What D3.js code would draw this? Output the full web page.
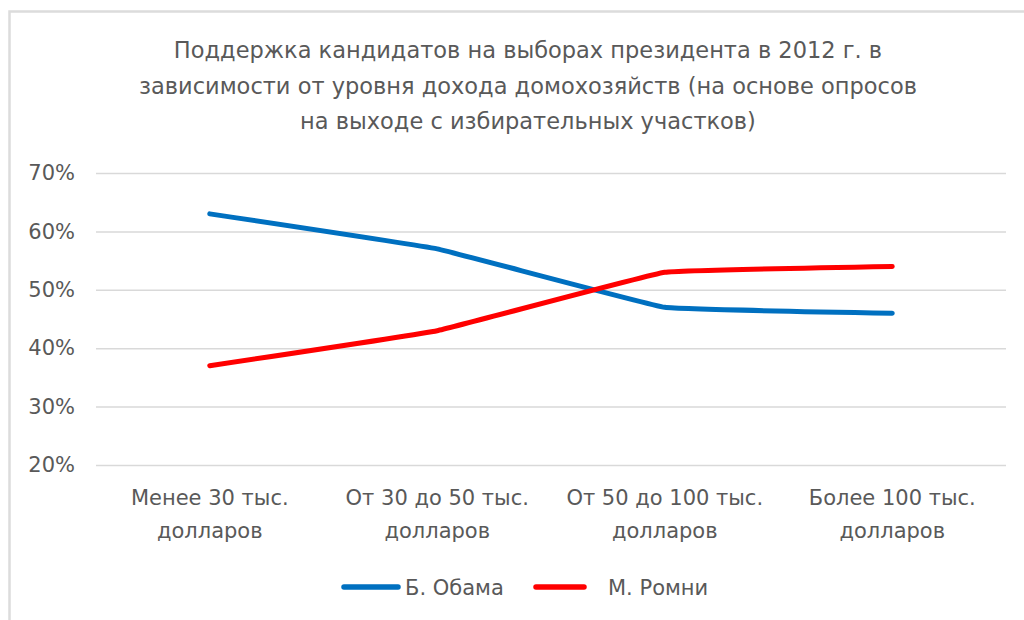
<!DOCTYPE html>
<html>
<head>
<meta charset="utf-8">
<script src="https://cdn.jsdelivr.net/npm/d3@7"></script>
<style>
  body { margin: 0; background: #fff; }
  text { font-family: "DejaVu Sans", "Open Sans", sans-serif; fill: #595959; }
</style>
</head>
<body>
<div id="chart"></div>
<script>
const canvas = { w: 1024, h: 620 };

const titleLines = [
  "Поддержка кандидатов на выборах президента в 2012 г. в",
  "зависимости от уровня дохода домохозяйств (на основе опросов",
  "на выходе с избирательных участков)"
];
const categories = [
  ["Менее 30 тыс.", "долларов"],
  ["От 30 до 50 тыс.", "долларов"],
  ["От 50 до 100 тыс.", "долларов"],
  ["Более 100 тыс.", "долларов"]
];
const obama = [63, 57, 47, 46];
const romney = [37, 43, 53, 54];
const yTicks = [20, 30, 40, 50, 60, 70];
const seriesNames = ["Б. Обама", "М. Ромни"];
const seriesColors = ["#0070c0", "#ff0000"];

const plot = { left: 96, right: 1006, top: 173, bottom: 465 };

const svg = d3.select("#chart")
  .append("svg")
  .attr("width", canvas.w)
  .attr("height", canvas.h);

// chart frame (only top and left edges fall inside the shot)
svg.append("rect")
  .attr("x", 9.5).attr("y", 11.5)
  .attr("width", 1100).attr("height", 700)
  .attr("fill", "#fff")
  .attr("stroke", "#dcdcdc")
  .attr("stroke-width", 2.5);

svg.append("text")
  .attr("text-anchor", "middle")
  .attr("font-size", 22.5)
  .selectAll("tspan")
  .data(titleLines)
  .enter()
  .append("tspan")
  .attr("x", 528)
  .attr("y", (d, i) => 58 + i * 35.5)
  .text(d => d);

const x = d3.scaleBand()
  .domain(d3.range(categories.length))
  .range([plot.left, plot.right]);

const y = d3.scaleLinear()
  .domain([20, 70])
  .range([plot.bottom, plot.top]);

const yAxis = svg.append("g")
  .attr("transform", `translate(${plot.left},0)`)
  .call(d3.axisLeft(y).tickValues(yTicks).tickSize(-(plot.right - plot.left)).tickFormat(d => d + "%"));
yAxis.select(".domain").remove();
yAxis.selectAll(".tick line").attr("stroke", "#d9d9d9").attr("stroke-width", 1.5);
yAxis.selectAll(".tick text")
  .attr("x", -21)
  .attr("font-size", 21)
  .attr("font-family", null)
  .attr("fill", null);

const xAxis = svg.append("g")
  .attr("transform", `translate(0,${plot.bottom})`)
  .call(d3.axisBottom(x).tickSize(0).tickFormat(""));
xAxis.select(".domain").remove();
xAxis.selectAll(".tick text").remove();
xAxis.selectAll(".tick")
  .append("text")
  .attr("text-anchor", "middle")
  .attr("font-size", 21)
  .selectAll("tspan")
  .data(i => categories[i])
  .enter()
  .append("tspan")
  .attr("x", 0)
  .attr("y", (d, i) => 40 + i * 33)
  .text(d => d);

const line = d3.line()
  .x((d, i) => x(i) + x.bandwidth() / 2)
  .y(d => y(d))
  .curve(d3.curveCardinal.tension(0.8));

svg.selectAll(".series")
  .data([obama, romney])
  .enter()
  .append("path")
  .attr("class", "series")
  .attr("d", line)
  .attr("fill", "none")
  .attr("stroke", (d, i) => seriesColors[i])
  .attr("stroke-width", 5)
  .attr("stroke-linecap", "round");

const legendItems = [
  { x1: 344, x2: 398, tx: 405 },
  { x1: 536, x2: 584, tx: 608 }
];
const legend = svg.append("g")
  .selectAll("g")
  .data(seriesNames)
  .enter()
  .append("g");
legend.append("line")
  .attr("x1", (d, i) => legendItems[i].x1)
  .attr("x2", (d, i) => legendItems[i].x2)
  .attr("y1", 587).attr("y2", 587)
  .attr("stroke", (d, i) => seriesColors[i])
  .attr("stroke-width", 5.5)
  .attr("stroke-linecap", "round");
legend.append("text")
  .attr("x", (d, i) => legendItems[i].tx)
  .attr("y", 595)
  .attr("font-size", 21)
  .text(d => d);
</script>
</body>
</html>
